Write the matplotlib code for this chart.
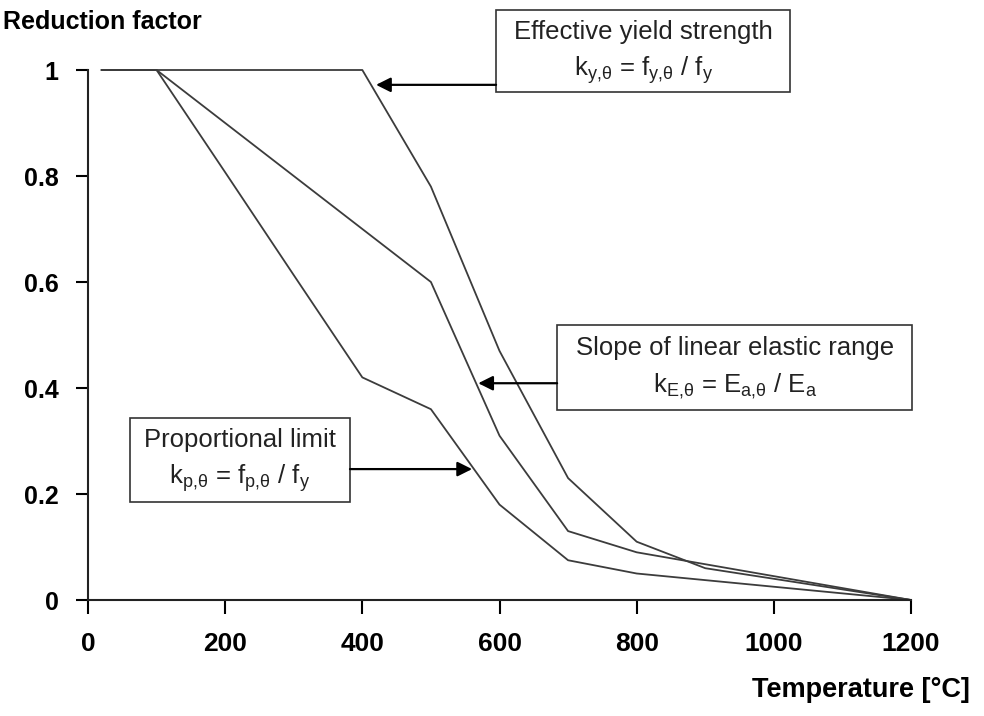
import numpy as np
import matplotlib
matplotlib.use("Agg")
import matplotlib.pyplot as plt
from matplotlib.patches import Rectangle

plt.rcParams['font.family'] = ['Liberation Sans', 'DejaVu Sans']
plt.rcParams['mathtext.fontset'] = 'custom'
plt.rcParams['mathtext.rm'] = 'Liberation Sans'
plt.rcParams['mathtext.it'] = 'Liberation Sans'
plt.rcParams['mathtext.default'] = 'regular'

# reduction factors for carbon steel at elevated temperature
temperature = [20, 100, 200, 300, 400, 500, 600, 700, 800, 900, 1000, 1100, 1200]
k_y = [1.0, 1.0, 1.0, 1.0, 1.0, 0.78, 0.47, 0.23, 0.11, 0.06, 0.04, 0.02, 0.0]
k_p = [1.0, 1.0, 0.807, 0.613, 0.42, 0.36, 0.18, 0.075, 0.05, 0.0375, 0.025, 0.0125, 0.0]
k_E = [1.0, 1.0, 0.9, 0.8, 0.7, 0.6, 0.31, 0.13, 0.09, 0.0675, 0.045, 0.0225, 0.0]

x_ticks = [0, 200, 400, 600, 800, 1000, 1200]
y_ticks = [0, 0.2, 0.4, 0.6, 0.8, 1]
y_tick_labels = ['0', '0.2', '0.4', '0.6', '0.8', '1']

fig = plt.figure(figsize=(9.84, 7.16), dpi=100)
ax = fig.add_axes([88 / 984, 1 - 600 / 716, 823 / 984, 530 / 716])

line_color = '#3c3c3c'
for ys in (k_y, k_p, k_E):
    ax.plot(temperature, ys, color=line_color, linewidth=1.3, clip_on=False)

ax.set_xlim(0, 1200)
ax.set_ylim(0, 1)
ax.set_xticks(x_ticks)
ax.set_yticks(y_ticks)
ax.set_yticklabels(y_tick_labels)
for s in ('top', 'right'):
    ax.spines[s].set_visible(False)
for s in ('left', 'bottom'):
    ax.spines[s].set_linewidth(1.5)
    ax.spines[s].set_color('#222222')
ax.tick_params(axis='x', direction='out', length=10, width=1.5, pad=13,
               labelsize=19)
ax.tick_params(axis='y', direction='out', length=9, width=1.5, pad=12,
               labelsize=18)
for lab in ax.get_xticklabels() + ax.get_yticklabels():
    lab.set_fontweight('bold')

# axis titles
fig.text(3 / 984, 1 - 22 / 716, 'Reduction factor', ha='left', va='center',
         fontsize=18, fontweight='bold')
fig.text(970 / 984, 1 - 690 / 716, 'Temperature [°C]', ha='right', va='center',
         fontsize=19.5, fontweight='bold')

# annotation boxes
boxes = [
    ((595, 0.958), 429, 0.155, 809.5, 1.072, 1.0,
     'Effective yield strength', r'k$_{y{,}θ}$ = f$_{y{,}θ}$ / f$_y$'),
    ((684, 0.358), 518, 0.161, 943, 0.475, 0.404,
     'Slope of linear elastic range', r'k$_{E{,}θ}$ = E$_{a{,}θ}$ / E$_a$'),
    ((61, 0.185), 321, 0.158, 221, 0.302, 0.230,
     'Proportional limit', r'k$_{p{,}θ}$ = f$_{p{,}θ}$ / f$_y$'),
]
for (x0, y0), w, h, cx, y1, y2, t1, t2 in boxes:
    ax.add_patch(Rectangle((x0, y0), w, h, facecolor='white',
                           edgecolor='#333333', linewidth=1.2, clip_on=False,
                           zorder=3))
    ax.text(cx, y1, t1, ha='center', va='center', fontsize=18.5,
            color='#222222', zorder=4)
    ax.text(cx, y2, t2, ha='center', va='center', fontsize=18.5,
            color='#222222', zorder=4)

arrows = [((595, 0.972), (420, 0.972)),
          ((684, 0.409), (569, 0.409)),
          ((382, 0.247), (560, 0.247))]
for start, end in arrows:
    ax.annotate('', xy=end, xytext=start,
                arrowprops=dict(arrowstyle='-|>', color='black', lw=1.6,
                                mutation_scale=22, shrinkA=0, shrinkB=0),
                annotation_clip=False)

fig.savefig('out.png', dpi=100)
